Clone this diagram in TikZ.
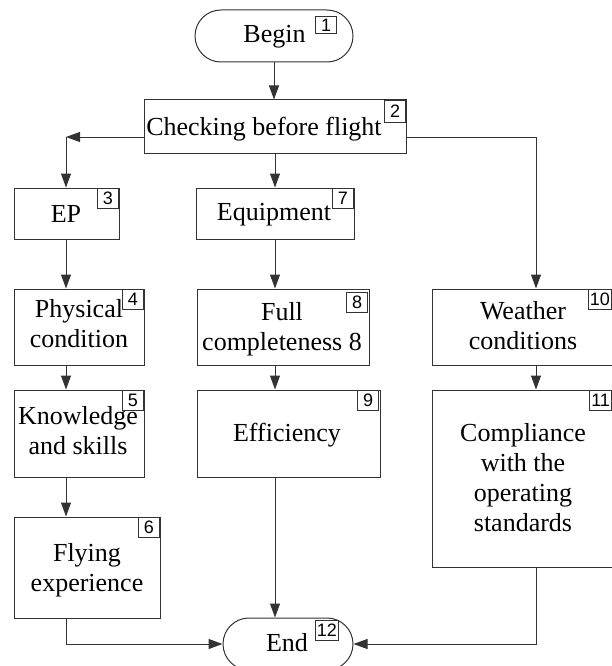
\documentclass[tikz,border=0pt]{standalone}
\usepackage{fontspec}
\setmainfont{Liberation Serif}
\newfontfamily\tagfont{Liberation Sans}
\usetikzlibrary{arrows.meta}
\begin{document}
\begin{tikzpicture}[x=1pt,y=-1pt,
  line/.style={draw=black!80,line width=1pt},
  arr/.style={line,-{Triangle[length=14pt,width=10pt]}},
  box/.style={line,rectangle,inner sep=0pt},
  term/.style={box,rounded corners=26pt},
  txt/.style={inner sep=0pt,align=center,font=\fontsize{26}{30}\selectfont},
  tagbox/.style={line,rectangle,inner xsep=1.5pt,inner ysep=0pt,minimum width=21pt,minimum height=20pt,anchor=north east,font=\tagfont\fontsize{18}{18}\selectfont}]
\useasboundingbox (0,0) rectangle (612,666);
% boxes
\node[term,minimum width=158pt,minimum height=52pt] (n1) at (274,36) {};
\node[box,minimum width=262pt,minimum height=53pt] (n2) at (275,126.5) {};
\node[box,minimum width=105pt,minimum height=51pt] (n3) at (66.5,213.5) {};
\node[box,minimum width=130pt,minimum height=76pt] (n4) at (79,327) {};
\node[box,minimum width=130pt,minimum height=87pt] (n5) at (79,433.5) {};
\node[box,minimum width=146pt,minimum height=101pt] (n6) at (87,567.5) {};
\node[box,minimum width=158pt,minimum height=51pt] (n7) at (275,213.5) {};
\node[box,minimum width=172pt,minimum height=76pt] (n8) at (283,327) {};
\node[box,minimum width=183pt,minimum height=87pt] (n9) at (288.5,433.5) {};
\node[box,minimum width=182pt,minimum height=76pt] (n10) at (523,327) {};
\node[box,minimum width=182pt,minimum height=177pt] (n11) at (523,478.5) {};
\node[term,minimum width=130pt,minimum height=52pt] (n12) at (288,644) {};
% texts
\node[txt] (t1) at (274.5,37) {Begin};
\node[txt] (t2) at (264,129) {Checking before flight};
\node[txt] (t3) at (66,213.5) {EP};
\node[txt] (t4) at (79,324) {Physical\\condition};
\node[txt] (t5) at (78,431) {Knowledge\\and skills};
\node[txt] (t6) at (87,570) {Flying\\experience};
\node[txt] (t7) at (274,214.5) {Equipment};
\node[txt] (t8) at (282,329) {Full\\completeness 8};
\node[txt] (t9) at (287,435.5) {Efficiency};
\node[txt] (t10) at (523,326) {Weather\\conditions};
\node[txt] (t11) at (523,478) {Compliance\\with the\\operating\\standards};
\node[txt] (t12) at (287,643) {End};
% tags
\node[tagbox,minimum height=17pt] (g1) at (337,16) {1};
\node[tagbox,minimum height=22pt] (g2) at (406,100) {2};
\node[tagbox] (g3) at (119,188) {3};
\node[tagbox] (g4) at (144,289) {4};
\node[tagbox] (g5) at (144,390) {5};
\node[tagbox] (g6) at (160,517) {6};
\node[tagbox] (g7) at (354,188) {7};
\node[tagbox] (g8) at (368,292) {8};
\node[tagbox] (g9) at (379,390) {9};
\node[tagbox] (g10) at (612,289) {10};
\node[tagbox] (g11) at (612,390) {11};
\node[tagbox] (g12) at (339,620) {12};
% connectors
\coordinate (lx) at (66,137);
\coordinate (rx) at (536,137);
\draw[arr] (n1.south) -- (n1.south |- n2.north);
\draw[arr] (n2.west |- lx) -- (lx);
\draw[arr] (lx) -- (n3.north -| lx);
\draw[arr] (n3.south -| lx) -- (n4.north -| lx);
\draw[arr] (n4.south -| lx) -- (n5.north -| lx);
\draw[arr] (n5.south -| lx) -- (n6.north -| lx);
\draw[arr] (n6.south -| lx) |- (n12.west);
\draw[arr] (n2.south) -- (n7.north);
\draw[arr] (n7.south) -- (n7.south |- n8.north);
\draw[arr] (n8.south -| n7.south) -- (n7.south |- n9.north);
\draw[arr] (n9.south -| n7.south) -- (n7.south |- n12.north);
\draw[arr] (n2.east |- rx) -- (rx) -- (n10.north -| rx);
\draw[arr] (n10.south -| rx) -- (n11.north -| rx);
\draw[arr] (n11.south -| rx) |- (n12.east);
\end{tikzpicture}
\end{document}
